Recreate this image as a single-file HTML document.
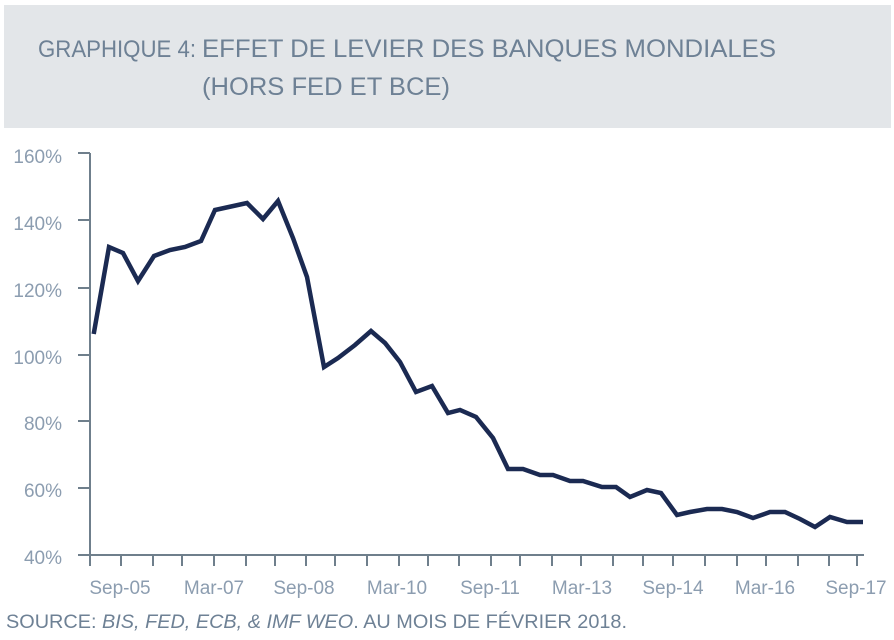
<!DOCTYPE html>
<html><head><meta charset="utf-8"><style>
body{margin:0;width:894px;height:640px;background:#fff;overflow:hidden;font-family:"Liberation Sans",sans-serif;}
</style></head><body>
<svg width="894" height="640" xmlns="http://www.w3.org/2000/svg" style="position:absolute;left:0;top:0">
<rect x="4" y="5" width="887" height="123" fill="#e3e6e9"/>
<text x="38" y="57" font-family="Liberation Sans Narrow, Liberation Sans, sans-serif" font-size="24" fill="#6e8195" textLength="158" lengthAdjust="spacingAndGlyphs">GRAPHIQUE 4:</text>
<text x="202" y="57" font-family="Liberation Sans, sans-serif" font-size="25" fill="#6e8195" textLength="574" lengthAdjust="spacingAndGlyphs">EFFET DE LEVIER DES BANQUES MONDIALES</text>
<text x="202" y="95" font-family="Liberation Sans, sans-serif" font-size="25" fill="#6e8195" textLength="248" lengthAdjust="spacingAndGlyphs">(HORS FED ET BCE)</text>
<g stroke="#6f7f8c" stroke-width="2">
<line x1="90" y1="153" x2="90" y2="566"/>
<line x1="78" y1="555" x2="864" y2="555"/>
<line x1="78" y1="153" x2="90" y2="153"/>
<line x1="78" y1="220" x2="90" y2="220"/>
<line x1="78" y1="288" x2="90" y2="288"/>
<line x1="78" y1="355" x2="90" y2="355"/>
<line x1="78" y1="421" x2="90" y2="421"/>
<line x1="78" y1="488" x2="90" y2="488"/>
</g>
<g stroke="#6f7f8c" stroke-width="2">
<line x1="121" y1="555" x2="121" y2="566"/><line x1="153" y1="555" x2="153" y2="566"/><line x1="182" y1="555" x2="182" y2="566"/><line x1="214" y1="555" x2="214" y2="566"/><line x1="246" y1="555" x2="246" y2="566"/><line x1="275" y1="555" x2="275" y2="566"/><line x1="306" y1="555" x2="306" y2="566"/><line x1="335" y1="555" x2="335" y2="566"/><line x1="367" y1="555" x2="367" y2="566"/><line x1="399" y1="555" x2="399" y2="566"/><line x1="428" y1="555" x2="428" y2="566"/><line x1="459" y1="555" x2="459" y2="566"/><line x1="491" y1="555" x2="491" y2="566"/><line x1="520" y1="555" x2="520" y2="566"/><line x1="552" y1="555" x2="552" y2="566"/><line x1="581" y1="555" x2="581" y2="566"/><line x1="613" y1="555" x2="613" y2="566"/><line x1="643" y1="555" x2="643" y2="566"/><line x1="673" y1="555" x2="673" y2="566"/><line x1="705" y1="555" x2="705" y2="566"/><line x1="737" y1="555" x2="737" y2="566"/><line x1="766" y1="555" x2="766" y2="566"/><line x1="798" y1="555" x2="798" y2="566"/><line x1="829" y1="555" x2="829" y2="566"/><line x1="857" y1="555" x2="857" y2="566"/>
</g>
<g font-size="19" fill="#8c9db0" text-anchor="end" font-family="Liberation Sans, sans-serif">
<text x="62" y="163">160%</text><text x="62" y="230">140%</text><text x="62" y="297">120%</text><text x="62" y="364">100%</text><text x="62" y="430">80%</text><text x="62" y="497">60%</text><text x="62" y="564">40%</text>
</g>
<g font-size="19" fill="#8c9db0" text-anchor="middle" font-family="Liberation Sans, sans-serif">
<text x="120" y="594">Sep-05</text><text x="214" y="594">Mar-07</text><text x="304" y="594">Sep-08</text><text x="397" y="594">Mar-10</text><text x="490" y="594">Sep-11</text><text x="582" y="594">Mar-13</text><text x="673" y="594">Sep-14</text><text x="765" y="594">Mar-16</text><text x="856" y="594">Sep-17</text>
</g>
<polyline fill="none" stroke="#1b2a52" stroke-width="4.5" stroke-linejoin="miter" points="93.7,334 109,247 123,253 138,281 154,256 170,250 185,247 201,241 215,210 247,203 263,219 278,201 293,238 307,277 324,367 338,358 355,345 371,331 385,343 400,362 416,392 432,386 448,413 460,410 476,417 493,438 508,469 523,469 540,475 553,475 570,481 583,481 602,487 616,487 630,497 647,490 661,493 677,515 690,512 707,509 722,509 737,512 753,518 770,512 785,512 800,519 815,527 830,517 847,522 863,522"/>
<text x="6" y="628" font-size="19" fill="#6e8195" font-family="Liberation Sans, sans-serif" textLength="621" lengthAdjust="spacingAndGlyphs">SOURCE: <tspan font-style="italic">BIS,  FED, ECB, &amp; IMF WEO</tspan>. AU MOIS DE FÉVRIER 2018.</text>
</svg>
</body></html>
